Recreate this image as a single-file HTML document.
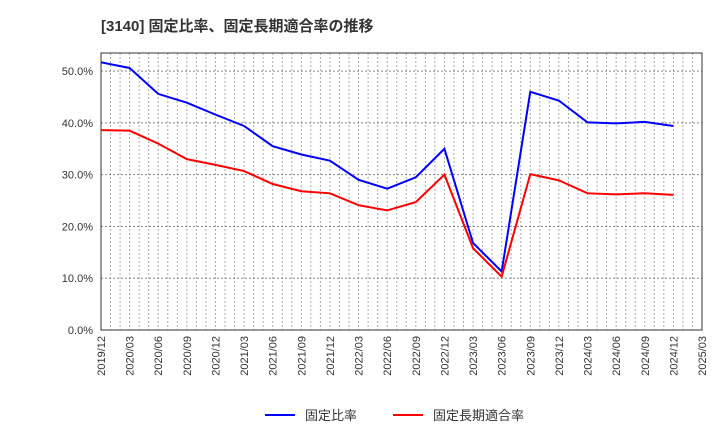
<!DOCTYPE html>
<html><head><meta charset="utf-8"><style>
body{margin:0;background:#fff;font-family:"Liberation Sans","Noto Sans CJK JP",sans-serif;}
svg text{font-family:"Liberation Sans","Noto Sans CJK JP",sans-serif;}
</style></head><body>
<svg id="chart" width="720" height="440">
<text x="101" y="31" font-size="15" font-weight="bold" fill="#333">[3140]  固定比率、固定長期適合率の推移</text>
<g id="grid"></g><g id="axes"></g><g id="series"></g>
<g>
<line x1="265" y1="415" x2="295" y2="415" stroke="#0000ff" stroke-width="2"/>
<text x="305" y="420" font-size="13" fill="#333">固定比率</text>
<line x1="393" y1="415" x2="423" y2="415" stroke="#ff0000" stroke-width="2"/>
<text x="433" y="420" font-size="13" fill="#333">固定長期適合率</text>
</g>
</svg>
<script>
const categories=["2019/12","2020/03","2020/06","2020/09","2020/12","2021/03","2021/06","2021/09","2021/12","2022/03","2022/06","2022/09","2022/12","2023/03","2023/06","2023/09","2023/12","2024/03","2024/06","2024/09","2024/12","2025/03"];
const fixedRatio=[51.7,50.6,45.6,43.9,41.6,39.4,35.5,33.9,32.7,29.0,27.3,29.5,35.0,16.8,11.3,46.0,44.3,40.1,39.9,40.2,39.4];
const fixedLongTermRatio=[38.6,38.5,36.0,33.0,31.9,30.7,28.2,26.8,26.4,24.1,23.1,24.7,30.0,15.8,10.3,30.1,28.9,26.4,26.2,26.4,26.1];
const yTicks=[0,10,20,30,40,50];
const L=101,R=702,T=53,B=330,yMax=53.5;
const NS="http://www.w3.org/2000/svg";
const xs=i=>L+(R-L)*i/(categories.length-1);
const ys=v=>B-(B-T)*v/yMax;
function mk(tag,attrs,parent){const e=document.createElementNS(NS,tag);for(const k in attrs)e.setAttribute(k,attrs[k]);parent.appendChild(e);return e;}
const grid=document.getElementById('grid'),axes=document.getElementById('axes'),series=document.getElementById('series');
const months=(categories.length-1)*3;
for(let m=1;m<months;m++){const x=L+(R-L)*m/months;const l=mk('line',{x1:x,x2:x,y1:T,y2:B,stroke:'#aaa','stroke-width':1,'stroke-dasharray':'2,2'},grid);

}
yTicks.forEach(v=>{const y=ys(v);
if(v>0){const g=mk('line',{x1:L,x2:R,y1:y,y2:y,stroke:'#888','stroke-width':1,'stroke-dasharray':'2,2'},grid);

}
const t=mk('text',{x:L-8,y:y+4,'text-anchor':'end','font-size':11,fill:'#333'},axes);t.textContent=v.toFixed(1)+'%';

});
const fr=mk('rect',{x:L,y:T,width:R-L,height:B-T,fill:'none',stroke:'#333','stroke-width':1},axes);


categories.forEach((c,i)=>{const x=xs(i);const t=mk('text',{transform:`translate(${x+4},${B+6}) rotate(-90)`,'text-anchor':'end','font-size':11,fill:'#333'},axes);t.textContent=c;

});
function line(data,color,name){const p=mk('polyline',{points:data.map((v,i)=>xs(i)+','+ys(v)).join(' '),fill:'none',stroke:color,'stroke-width':2},series);

}
line(fixedRatio,'#0000ff','fixed-ratio-line');
line(fixedLongTermRatio,'#ff0000','fixed-long-term-ratio-line');
</script>
</body></html>
